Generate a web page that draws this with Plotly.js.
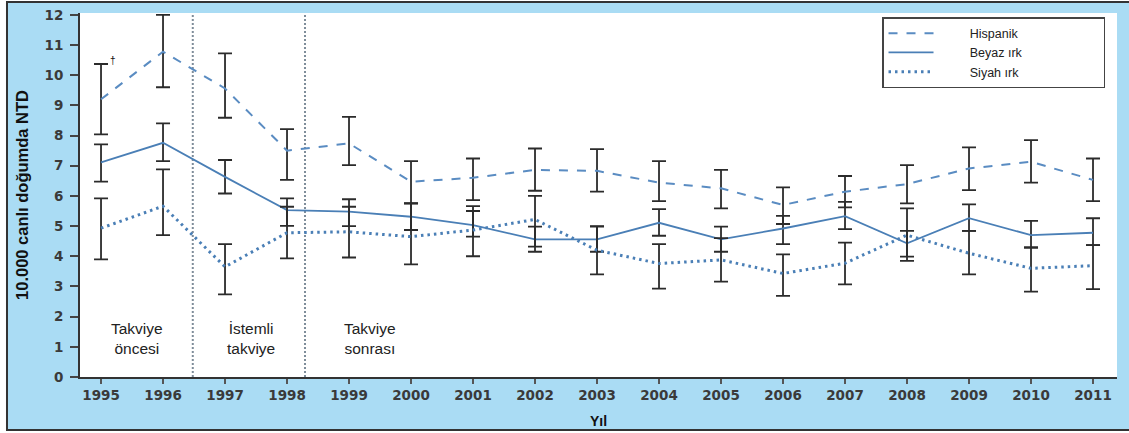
<!DOCTYPE html>
<html>
<head>
<meta charset="utf-8">
<script src="https://cdn.plot.ly/plotly-3.0.1.min.js"></script>
<style>html,body{margin:0;padding:0;background:#fff;}#chart{width:1129px;height:433px;}</style>
</head>
<body>
<div id="chart"></div>
<script>
// ---- data ----
const years = [1995,1996,1997,1998,1999,2000,2001,2002,2003,2004,2005,2006,2007,2008,2009,2010,2011];
const tickLabels = years.map(String);

const hispanic   = [9.20,10.78,9.56,7.50,7.74,6.47,6.60,6.86,6.83,6.44,6.25,5.70,6.14,6.39,6.91,7.13,6.53];
const hispanicLo = [8.04,9.60,8.59,6.53,7.02,5.75,5.86,6.17,6.14,5.83,5.59,5.07,5.62,5.75,6.19,6.44,5.83];
const hispanicHi = [10.37,12.00,10.72,8.21,8.62,7.15,7.24,7.57,7.55,7.15,6.86,6.28,6.66,7.02,7.61,7.85,7.24];

const white   = [7.11,7.76,6.63,5.53,5.48,5.31,5.03,4.56,4.56,5.11,4.56,4.92,5.33,4.43,5.26,4.70,4.78];
const whiteLo = [6.47,7.15,6.08,5.01,5.00,4.87,4.65,4.15,4.15,4.68,4.15,4.40,4.90,3.99,4.84,4.28,4.37];
const whiteHi = [7.71,8.40,7.19,5.92,5.89,5.75,5.50,4.98,4.98,5.56,4.98,5.34,5.80,4.84,5.72,5.17,5.26];

const black   = [4.93,5.66,3.65,4.78,4.81,4.65,4.87,5.22,4.20,3.76,3.88,3.43,3.77,4.70,4.10,3.60,3.69];
const blackLo = [3.90,4.70,2.74,3.93,3.96,3.73,4.00,4.32,3.40,2.93,3.16,2.69,3.07,3.85,3.40,2.83,2.91];
const blackHi = [5.92,6.88,4.40,5.64,5.64,5.75,5.66,6.00,5.00,4.40,4.60,4.06,4.45,5.59,4.84,4.30,4.37];

const seriesNames = ['Hispanik','Beyaz ırk','Siyah ırk'];
const phaseBounds = [1996.48, 1998.29];
const phaseLabels = ['Takviye<br>öncesi','İstemli<br>takviye','Takviye<br>sonrası'];
const phaseLabelX = [1995.58, 1997.42, 1999.34];
const phaseLabelY = 1.26;

// ---- helpers ----
const nb = n => '\u00a0'.repeat(n);
function errBars(c, lo, hi){
  return {type:'data', symmetric:false,
    array: hi.map((h,i)=>+(h-c[i]).toFixed(3)),
    arrayminus: c.map((v,i)=>+(v-lo[i]).toFixed(3)),
    color:'#2b2b2b', thickness:1.8, width:7};
}
const legendName = s => nb(9) + s + nb(22);

const traces = [
  {x:years, y:hispanic, name:legendName(seriesNames[0]), type:'scatter', mode:'lines',
   line:{color:'#5a8cc2', width:2, dash:'9px,9px'}, error_y:errBars(hispanic,hispanicLo,hispanicHi)},
  {x:years, y:white, name:legendName(seriesNames[1]), type:'scatter', mode:'lines',
   line:{color:'#4a7fb6', width:1.8}, error_y:errBars(white,whiteLo,whiteHi)},
  {x:years, y:black, name:legendName(seriesNames[2]), type:'scatter', mode:'lines',
   line:{color:'#4a7fb6', width:3, dash:'2.5px,4px'}, error_y:errBars(black,blackLo,blackHi)}
];

const shapes = [
  {type:'rect', xref:'paper', yref:'paper', x0:-0.0704, x1:1.02, y0:-0.1456, y1:1.0302,
   fillcolor:'#aadcf4', line:{color:'#333', width:2}, layer:'below'},
  {type:'rect', xref:'paper', yref:'paper', x0:0, x1:1, y0:0, y1:1,
   fillcolor:'#ffffff', line:{width:0}, layer:'below'}
];
phaseBounds.forEach(b => shapes.push({type:'line', xref:'x', yref:'paper', x0:b, x1:b, y0:0, y1:1,
  line:{color:'#7f8d9a', width:2, dash:'2px,2px'}, layer:'below'}));

const annotations = phaseLabels.map((t,i)=>({x:phaseLabelX[i], y:phaseLabelY, xref:'x', yref:'y',
  text:t, showarrow:false, font:{family:'Liberation Sans, Arial', size:15.5, color:'#222'}}));
annotations.push({x:1995.2, y:10.5, xref:'x', yref:'y', text:'†', showarrow:false,
  font:{family:'Liberation Sans, Arial', size:10, color:'#111'}});

const tickFont = {family:'DejaVu Sans, Arial', size:13.5, color:'#3a3a3a', weight:'bold'};

const layout = {
  width:1129, height:433,
  margin:{l:80, r:12, t:13, b:56},
  paper_bgcolor:'#ffffff', plot_bgcolor:'#ffffff',
  showlegend:true,
  legend:{x:0.7734, y:0.989, xanchor:'left', yanchor:'top', bgcolor:'#ffffff',
    bordercolor:'#444', borderwidth:1.5, itemwidth:45, tracegroupgap:0,
    font:{family:'Liberation Sans, Arial', size:12.5, color:'#222'}},
  xaxis:{range:[1994.661, 2011.387], tickvals:years, ticktext:tickLabels, tickfont:tickFont,
    showgrid:false, zeroline:false, showline:true, linecolor:'#333', linewidth:1.5,
    ticks:'outside', ticklen:5, tickwidth:1.5, tickcolor:'#555',
    title:{text:'Yıl', font:{family:'Liberation Sans Narrow, Liberation Sans, Arial', size:14, color:'#111', weight:'bold'}, standoff:14}},
  yaxis:{range:[0, 12.06], tickvals:[0,1,2,3,4,5,6,7,8,9,10,11,12], tickfont:tickFont,
    showgrid:false, zeroline:false, showline:true, linecolor:'#333', linewidth:2,
    ticks:'outside', ticklen:8, tickwidth:2, tickcolor:'#444', ticklabelstandoff:4,
    title:{text:'10.000 canlı doğumda NTD', font:{family:'Liberation Sans, Arial', size:16.5, color:'#111', weight:'bold'}, standoff:12}},
  shapes:shapes,
  annotations:annotations
};

Plotly.newPlot('chart', traces, layout, {displayModeBar:false, staticPlot:true});
</script>
</body>
</html>
